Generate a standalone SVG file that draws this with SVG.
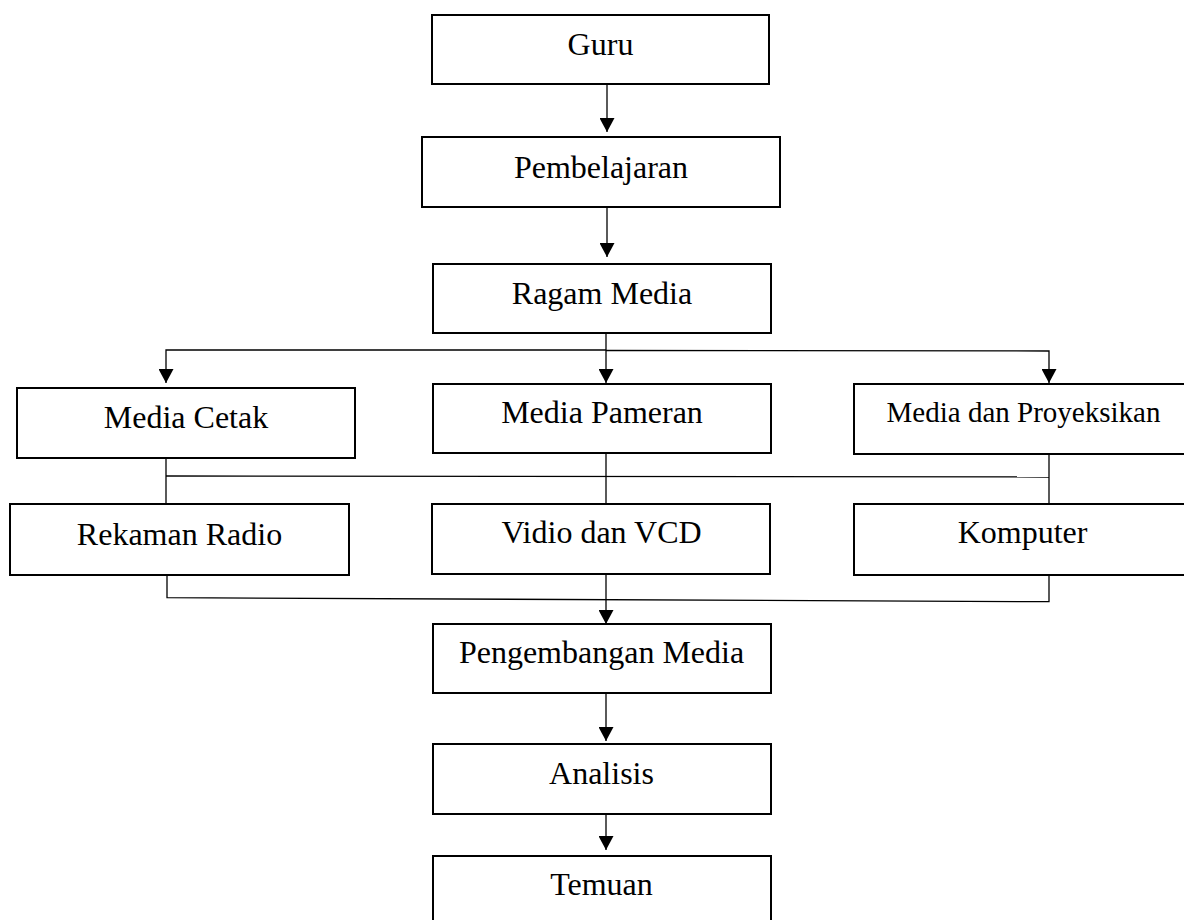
<svg xmlns="http://www.w3.org/2000/svg" width="1184" height="920" viewBox="0 0 1184 920">
<style>
.box{fill:#fff;stroke:#000;stroke-width:2}
.lbl{font-family:"Liberation Serif","Times New Roman",serif;font-size:32px;fill:#000;text-anchor:middle}
.sm{font-size:29px}
.ln{fill:none;stroke:#000;stroke-width:1.3}
</style>
<defs>
<marker id="ah" viewBox="0 0 14 15" refX="14" refY="7.5" markerWidth="14" markerHeight="15" markerUnits="userSpaceOnUse" orient="auto">
<path d="M0,0 L14,7.5 L0,15 Z" fill="#000"/>
</marker>
</defs>
<rect width="1184" height="920" fill="#fff"/>
<g id="connectors">
<line class="ln" x1="607" y1="84" x2="607" y2="132" marker-end="url(#ah)"/>
<line class="ln" x1="607" y1="207" x2="607" y2="257" marker-end="url(#ah)"/>
<line class="ln" x1="606" y1="333" x2="606" y2="383" marker-end="url(#ah)"/>
<polyline class="ln" points="606,350 166,350 166,383" marker-end="url(#ah)"/>
<polyline class="ln" points="606,350.5 1049,351 1049,383" marker-end="url(#ah)"/>
<line class="ln" x1="166" y1="476" x2="1049" y2="477"/>
<line class="ln" x1="166" y1="458" x2="166" y2="504"/>
<line class="ln" x1="606" y1="453" x2="606" y2="504"/>
<line class="ln" x1="1049" y1="454" x2="1049" y2="504"/>
<polyline class="ln" points="167,575 167,597.7 1049,601.7 1049,575"/>
<line class="ln" x1="606" y1="574" x2="606" y2="624" marker-end="url(#ah)"/>
<line class="ln" x1="606" y1="693" x2="606" y2="741" marker-end="url(#ah)"/>
<line class="ln" x1="606" y1="814" x2="606" y2="850" marker-end="url(#ah)"/>
</g>
<g id="guru"><rect class="box" x="432" y="15" width="337" height="69"/><text class="lbl" x="600.5" y="55">Guru</text></g>
<g id="pembelajaran"><rect class="box" x="422" y="137" width="358" height="70"/><text class="lbl" x="601" y="178">Pembelajaran</text></g>
<g id="ragam-media"><rect class="box" x="433" y="264" width="338" height="69"/><text class="lbl" x="602" y="304">Ragam Media</text></g>
<g id="media-cetak"><rect class="box" x="17" y="388" width="338" height="70"/><text class="lbl" x="186" y="428">Media Cetak</text></g>
<g id="media-pameran"><rect class="box" x="433" y="384" width="338" height="69"/><text class="lbl" x="602" y="423">Media Pameran</text></g>
<g id="media-proyeksikan"><rect class="box" x="854" y="384" width="338" height="70"/><text class="lbl sm" x="1023.5" y="422">Media dan Proyeksikan</text></g>
<g id="rekaman-radio"><rect class="box" x="10" y="504" width="339" height="71"/><text class="lbl" x="179.5" y="545">Rekaman Radio</text></g>
<g id="vidio-vcd"><rect class="box" x="432" y="504" width="338" height="70"/><text class="lbl" x="601.5" y="543">Vidio dan VCD</text></g>
<g id="komputer"><rect class="box" x="854" y="504" width="338" height="71"/><text class="lbl" x="1022.5" y="543">Komputer</text></g>
<g id="pengembangan-media"><rect class="box" x="433" y="624" width="338" height="69"/><text class="lbl" x="601.5" y="663">Pengembangan Media</text></g>
<g id="analisis"><rect class="box" x="433" y="744" width="338" height="70"/><text class="lbl" x="601.5" y="784">Analisis</text></g>
<g id="temuan"><rect class="box" x="433" y="856" width="338" height="70"/><text class="lbl" x="601.5" y="895">Temuan</text></g>
</svg>
